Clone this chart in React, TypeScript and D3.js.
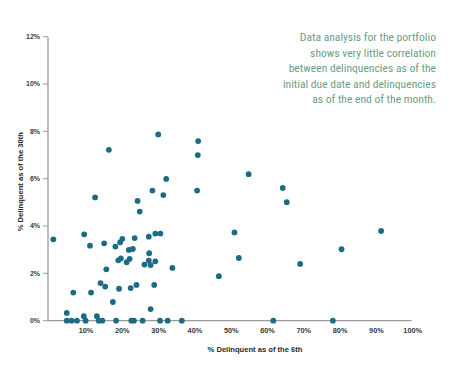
import React from "react";
import * as d3 from "d3";

const delinquent6th: number[] = [
  1.0, 9.5, 11.1, 15.0, 18.1, 19.4, 20.0, 23.4, 21.8, 22.9, 18.9, 19.6, 21.2, 22.0,
  27.3, 29.1, 30.5, 27.4, 27.3, 27.8, 26.1, 29.1, 33.8, 15.6, 14.0, 15.3, 6.5, 11.4,
  19.1, 22.3, 23.9, 28.8, 17.4, 27.8, 4.7, 9.4, 13.0,
  4.7, 6.0, 7.5, 9.9, 13.5, 14.5, 18.3, 22.5, 23.2, 25.6, 30.4, 32.5, 36.4, 61.6, 78.0,
  12.5, 24.2, 24.8, 28.3, 31.3, 32.1, 40.6, 29.9, 16.3, 40.9, 40.8, 54.8, 64.2, 65.3,
  50.9, 52.1, 46.6, 69.0, 80.4, 91.3,
];
const delinquent30th: number[] = [
  3.44, 3.65, 3.17, 3.27, 3.13, 3.31, 3.46, 3.49, 2.99, 3.03, 2.55, 2.63, 2.47, 2.61,
  3.55, 3.68, 3.68, 2.85, 2.54, 2.35, 2.37, 2.51, 2.23, 2.17, 1.59, 1.44, 1.19, 1.19,
  1.35, 1.38, 1.51, 1.51, 0.79, 0.49, 0.33, 0.19, 0.19,
  0, 0, 0, 0, 0, 0, 0, 0, 0, 0, 0, 0, 0, 0, 0,
  5.21, 5.06, 4.61, 5.5, 5.31, 5.99, 5.5, 7.87, 7.22, 7.59, 7.0, 6.19, 5.61, 5.01,
  3.73, 2.65, 1.88, 2.4, 3.02, 3.79,
];
const xTicks: number[] = [10, 20, 30, 40, 50, 60, 70, 80, 90, 100];
const yTicks: number[] = [0, 2, 4, 6, 8, 10, 12];
const noteLines: string[] = [
  "Data analysis for the portfolio",
  "shows very little correlation",
  "between delinquencies as of the",
  "initial due date and delinquencies",
  "as of the end of the month.",
];
const xTitle = "% Delinquent as of the 6th";
const yTitle = "% Delinquent as of the 30th";

export default function App() {
  const W = 466;
  const H = 366;
  const x = d3.scaleLinear().domain([0, 100]).range([49.7, 412.7]);
  const y = d3.scaleLinear().domain([0, 12]).range([320.7, 36.7]);
  const axisX0 = 48;
  const labelFont = "'Liberation Sans', Arial, sans-serif";
  const pts = delinquent6th.map((v, i) => ({ x: v, y: delinquent30th[i] }));
  return (
    <svg
      width={W}
      height={H}
      style={{ position: "absolute", left: 0, top: 0, background: "#fff" }}
    >
      {/* y axis */}
      <line x1={axisX0} x2={axisX0} y1={y(12)} y2={y(0)} stroke="#9a9a9a" strokeWidth={1.3} />
      {yTicks.map((t) => (
        <g key={"y" + t}>
          <line x1={axisX0 - 5} x2={axisX0} y1={y(t)} y2={y(t)} stroke="#9a9a9a" strokeWidth={1} />
          <text
            x={axisX0 - 8}
            y={y(t)}
            dy="0.35em"
            textAnchor="end"
            fontFamily={labelFont}
            fontWeight="bold"
            fontSize={7}
            fill="#3a3a3a"
          >
            {t + "%"}
          </text>
        </g>
      ))}
      {/* x axis */}
      <line x1={axisX0} x2={x(100) - 1} y1={y(0)} y2={y(0)} stroke="#9a9a9a" strokeWidth={1.3} />
      {xTicks.map((t) => (
        <text
          key={"x" + t}
          x={x(t)}
          y={y(0) + 12.5}
          textAnchor="middle"
          fontFamily={labelFont}
          fontWeight="bold"
          fontSize={7.3}
          fill="#3a3a3a"
        >
          {t + "%"}
        </text>
      ))}
      <text
        x={255}
        y={352}
        textAnchor="middle"
        fontFamily={labelFont}
        fontWeight="bold"
        fontSize={7.6}
        fill="#2a2a2a"
      >
        {xTitle}
      </text>
      <text
        transform={`translate(22.5,181.7) rotate(-90)`}
        textAnchor="middle"
        fontFamily={labelFont}
        fontWeight="bold"
        fontSize={7.6}
        fill="#2a2a2a"
      >
        {yTitle}
      </text>
      {/* points */}
      {pts.map((p, i) => (
        <circle key={i} cx={x(p.x)} cy={y(p.y)} r={2.9} fill="#1b6b86" />
      ))}
      {/* note */}
      {noteLines.map((l, i) => (
        <text
          key={"n" + i}
          x={436}
          y={41 + i * 15.5}
          textAnchor="end"
          fontFamily="'Liberation Sans Narrow', 'Roboto Condensed', Roboto, sans-serif"
          fontSize={11.6}
          fill="#6a9e86"
        >
          {l}
        </text>
      ))}
    </svg>
  );
}
